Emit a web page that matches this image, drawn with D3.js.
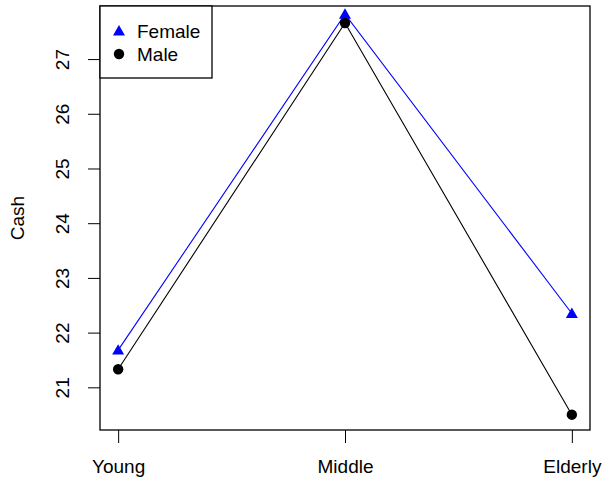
<!DOCTYPE html>
<html>
<head>
<meta charset="utf-8">
<script src="https://d3js.org/d3.v7.min.js"></script>
<style>
  body { margin: 0; background: #fff; }
  svg { display: block; font-family: "Liberation Sans", Arial, sans-serif; }
  .axis text { font-size: 19px; fill: #000; }
</style>
</head>
<body>
<div id="chart"></div>
<script>
// data
var ageGroups = ['Young', 'Middle', 'Elderly'];
var femaleCash = [21.68, 27.82, 22.35];
var maleCash = [21.33, 27.66, 20.50];
var yTicks = [21, 22, 23, 24, 25, 26, 27];
var seriesNames = ['Female', 'Male'];

var w = 605,
    h = 477;

// plot box (R's base graphics region)
var box = { left: 100, right: 590, top: 6, bottom: 430 };

var svg = d3.select('#chart').append('svg')
    .attr('width', w)
    .attr('height', h);

// x: positions 1..3 with R's 4% padding
var xScale = d3.scaleLinear()
    .domain([0.92, 3.08])
    .range([box.left, box.right]);

var yScale = d3.scaleLinear()
    .domain([20.22, 27.97])
    .range([box.bottom, box.top]);

function xPos(i) {
    return xScale(i + 1);
}

// axes
var xAxis = d3.axisBottom(xScale)
    .tickValues([1, 2, 3])
    .tickSize(13)
    .tickFormat(function(d) { return ageGroups[d - 1]; });

var yAxis = d3.axisLeft(yScale)
    .tickValues(yTicks)
    .tickSize(12)
    .tickFormat(d3.format('d'));

var gx = svg.append('g')
    .attr('class', 'axis x')
    .attr('transform', translation(0, box.bottom))
    .call(xAxis);
gx.select('.domain').remove();
gx.selectAll('line').attr('stroke', '#000');
gx.selectAll('text').attr('dy', null).attr('y', 43);

var gy = svg.append('g')
    .attr('class', 'axis y')
    .attr('transform', translation(box.left, 0))
    .call(yAxis);
gy.select('.domain').remove();
gy.selectAll('line').attr('stroke', '#000');
// R draws the y tick labels turned on their side
gy.selectAll('text')
    .attr('x', null)
    .attr('dy', null)
    .attr('text-anchor', 'middle')
    .attr('transform', translation(-31, 0) + ' rotate(-90)');

// y label
svg.append('text')
    .attr('transform', translation(24, (box.top + box.bottom) / 2) + ' rotate(-90)')
    .attr('text-anchor', 'middle')
    .style('font-size', '19px')
    .attr('fill', '#000')
    .text('Cash');

// plot frame
svg.append('rect')
    .attr('x', box.left)
    .attr('y', box.top)
    .attr('width', box.right - box.left)
    .attr('height', box.bottom - box.top)
    .attr('fill', 'none')
    .attr('stroke', '#000')
    .attr('stroke-width', 1.3);

var line = d3.line()
    .x(function(d, i) { return xPos(i); })
    .y(function(d) { return yScale(d); });

// female series
svg.append('path')
    .datum(femaleCash)
    .attr('d', line)
    .attr('fill', 'none')
    .attr('stroke', '#0000ff')
    .attr('stroke-width', 1.1);

// male series
svg.append('path')
    .datum(maleCash)
    .attr('d', line)
    .attr('fill', 'none')
    .attr('stroke', '#000')
    .attr('stroke-width', 1.1);

var triangle = d3.symbol().type(d3.symbolTriangle).size(62);

svg.selectAll('.pt.female')
    .data(femaleCash)
    .enter().append('path')
    .attr('class', 'pt female')
    .attr('d', triangle)
    .attr('transform', function(d, i) { return translation(xPos(i), yScale(d) + 1); })
    .attr('fill', '#0000ff');

svg.selectAll('.pt.male')
    .data(maleCash)
    .enter().append('circle')
    .attr('class', 'pt male')
    .attr('cx', function(d, i) { return xPos(i); })
    .attr('cy', function(d) { return yScale(d); })
    .attr('r', 5.2)
    .attr('fill', '#000');

// legend
var legend = svg.append('g').attr('class', 'legend');

legend.append('rect')
    .attr('x', box.left)
    .attr('y', box.top)
    .attr('width', 112)
    .attr('height', 72)
    .attr('fill', '#fff')
    .attr('stroke', '#000')
    .attr('stroke-width', 1.3);

legend.append('path')
    .attr('d', triangle)
    .attr('transform', translation(119, 32))
    .attr('fill', '#0000ff');

legend.append('circle')
    .attr('cx', 119)
    .attr('cy', 54)
    .attr('r', 5.2)
    .attr('fill', '#000');

legend.selectAll('.label')
    .data(seriesNames)
    .enter().append('text')
    .attr('class', 'label')
    .attr('x', 137)
    .attr('y', function(d, i) { return 38 + i * 23; })
    .style('font-size', '19px')
    .attr('fill', '#000')
    .text(function(d) { return d; });

// string concat for translate
function translation(x, y) {
    return 'translate(' + x + ',' + y + ')';
}
</script>
</body>
</html>
